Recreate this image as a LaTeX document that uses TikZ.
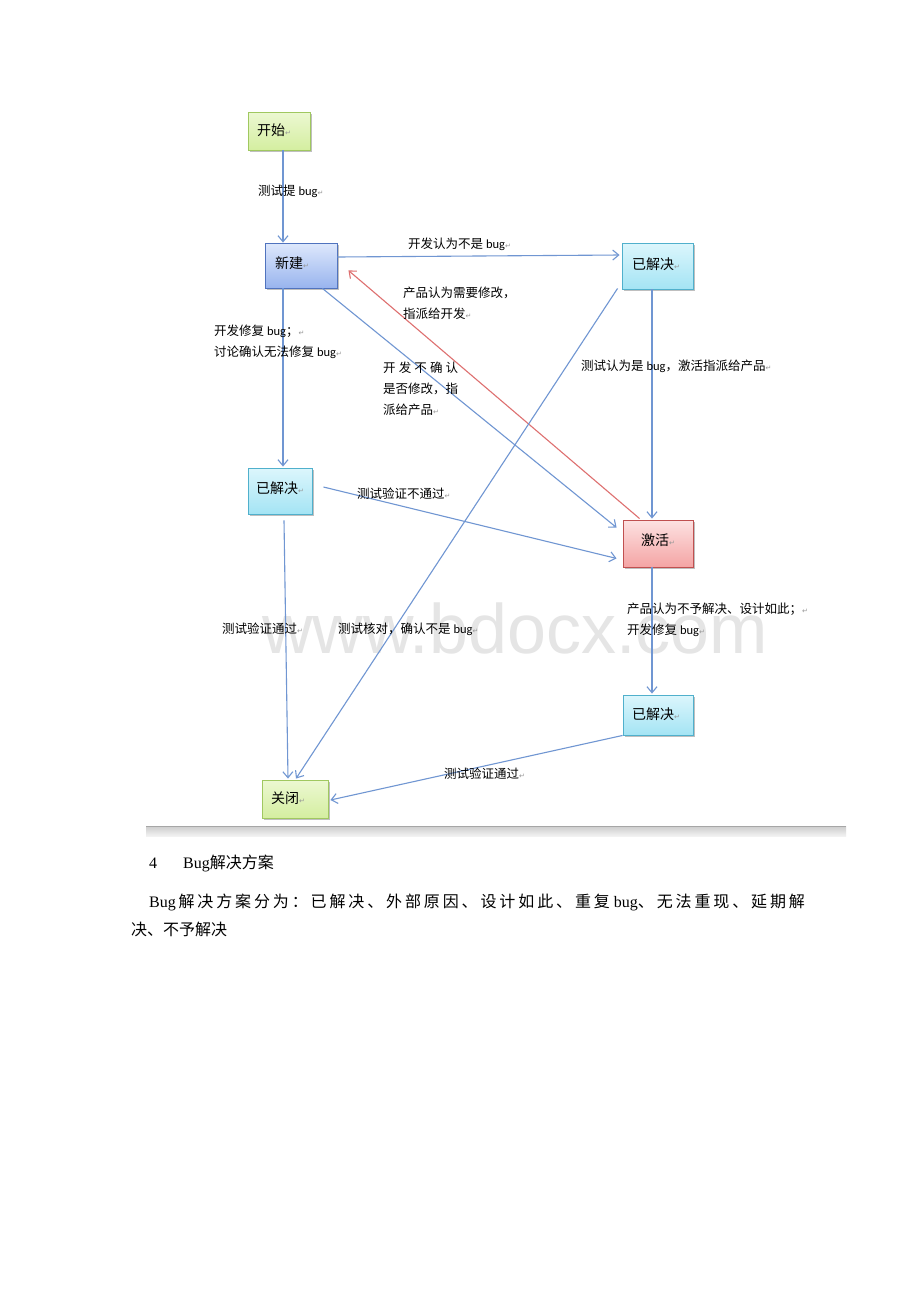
\documentclass[tikz,border=0pt]{standalone}
\usepackage{fontspec}
\setmainfont{Liberation Serif}
\newfontfamily\cjk{Noto Sans CJK SC}
\newfontfamily\cjkls[LetterSpace=18]{Noto Sans CJK SC}
\newfontfamily\lat{Carlito}
\newfontfamily\symf{DejaVu Sans}
\newfontfamily\wmf{Liberation Sans}
\usetikzlibrary{arrows.meta,shadows,calc}
\definecolor{lnblue}{RGB}{112,150,210}
\definecolor{lnred}{RGB}{222,112,112}
\definecolor{pmgray}{RGB}{150,150,150}
\newcommand{\pmk}{{\symf\color{pmgray}\fontsize{7}{7}\selectfont ↵}}
\newcommand{\bugw}{{\lat bug}}
\tikzset{
  box/.style={draw, line width=0.9pt, inner ysep=0pt, align=left,
    font=\cjk\fontsize{14}{16}\selectfont,
    drop shadow={shadow xshift=1.5pt, shadow yshift=-1.5pt, opacity=0.25, fill=black}},
  greenbox/.style={box, draw={rgb,255:red,160;green,200;blue,96}, top color={rgb,255:red,236;green,248;blue,210}, bottom color={rgb,255:red,212;green,238;blue,160}},
  bluebox/.style={box, draw={rgb,255:red,80;green,115;blue,190}, top color={rgb,255:red,222;green,232;blue,252}, bottom color={rgb,255:red,152;green,180;blue,238}},
  cyanbox/.style={box, draw={rgb,255:red,80;green,176;blue,204}, top color={rgb,255:red,220;green,246;blue,252}, bottom color={rgb,255:red,164;green,228;blue,244}},
  redbox/.style={box, draw={rgb,255:red,192;green,80;blue,80}, top color={rgb,255:red,253;green,226;blue,226}, bottom color={rgb,255:red,244;green,164;blue,164}},
  conn/.style={draw=lnblue, line width=1.1pt, -{Straight Barb[length=6pt,width=10pt]}},
  connred/.style={conn, draw=lnred},
  lbl/.style={anchor=west, inner sep=0pt, align=left, font=\cjk\fontsize{12.5}{21}\selectfont},
}
\begin{document}
\begin{tikzpicture}[x=1pt,y=-1pt]
\useasboundingbox[fill=white] (0,0) rectangle (920,1302);

% watermark
\node[font=\wmf\fontsize{70}{70}\selectfont, text=black!10, inner sep=0pt] (wmk) at (515,628) {www.bdocx.com};

% nodes
\node[greenbox, minimum height=38pt, inner xsep=9pt, text width=44pt] (ks) at (279,131) {\raisebox{3pt}{开始\pmk}};
\node[bluebox, minimum height=45pt, inner xsep=10pt, text width=52pt] (xj) at (301,265.5) {\raisebox{6pt}{新建\pmk}};
\node[cyanbox, minimum height=46pt, inner xsep=10pt, text width=51pt] (yj1) at (657.5,266) {\raisebox{5pt}{已解决\pmk}};
\node[cyanbox, minimum height=46pt, inner xsep=8pt, text width=48pt] (yj2) at (280,491) {\raisebox{6pt}{已解决\pmk}};
\node[redbox, minimum height=47pt, inner xsep=10pt, text width=50pt, align=center] (jh) at (658,543.5) {\raisebox{8pt}{激活\pmk}};
\node[cyanbox, minimum height=40pt, inner xsep=9pt, text width=52pt] (yj3) at (658,715) {\raisebox{3pt}{已解决\pmk}};
\node[greenbox, minimum height=38pt, inner xsep=9pt, text width=48pt] (gb) at (295,799) {\raisebox{2pt}{关闭\pmk}};

% connectors
\draw[conn] ($(ks.south)+(4,0)$) -- ($(xj.north)+(-18,0)$);
\draw[conn] ($(xj.east)+(0,-8.5)$) -- ($(yj1.west)+(-2,-11)$);
\draw[connred] ($(jh.north west)+(17,-1)$) -- ($(xj.south east)+(11,-18)$);
\draw[conn] ($(xj.south east)+(-15,0)$) -- ($(jh.north west)+(-6,8)$);
\draw[conn] ($(xj.south)+(-18,0)$) -- ($(yj2.north)+(3,-1)$);
\draw[conn] ($(yj1.south)+(-5.5,0)$) -- ($(jh.north)+(-6,-1)$);
\draw[conn] ($(yj1.south west)+(-4,-1)$) -- ($(gb.north)+(1,-1)$);
\draw[conn] ($(yj2.east)+(11,-4)$) -- ($(jh.south west)+(-6,-9)$);
\draw[conn] ($(yj2.south)+(4,6)$) -- ($(gb.north)+(-7,-1)$);
\draw[conn] ($(jh.south)+(-6,0)$) -- ($(yj3.north)+(-6,-1)$);
\draw[conn] (yj3.south west) -- ($(gb.east)+(2,1)$);

% labels
\node[lbl] (l1) at (258,191) {测试提 \bugw\pmk};
\node[lbl] (l2) at (408,244) {开发认为不是 \bugw\pmk};
\node[lbl] (l3) at (403,303.5) {产品认为需要修改，\\指派给开发\pmk};
\node[lbl] (l4) at (383,388.5) {\makebox[6em][s]{开\hfil 发\hfil 不\hfil 确\hfil 认}\\是否修改，指\\派给产品\pmk};
\node[lbl] (l5) at (214,341.5) {开发修复 \bugw；\pmk\\讨论确认无法修复 \bugw\pmk};
\node[lbl] (l6) at (581,366) {测试认为是 \bugw，激活指派给产品\pmk};
\node[lbl] (l7) at (357,494) {测试验证不通过\pmk};
\node[lbl] (l8) at (222,629) {测试验证通过\pmk};
\node[lbl] (l9) at (338,629) {测试核对，确认不是 \bugw\pmk};
\node[lbl] (l10) at (627,619.5) {产品认为不予解决、设计如此；\pmk\\开发修复 \bugw\pmk};
\node[lbl] (l11) at (444,774) {测试验证通过\pmk};

% separator bar
\shade[top color=black!20, bottom color=black!5] (146,826) rectangle (846,836);
\draw[black!35, line width=0.6pt] (146,826.3) -- (846,826.3);

% body text
\node[anchor=base west, inner sep=0pt, font=\fontsize{16}{20}\selectfont] (h4) at (149,868) {4};
\node[anchor=base west, inner sep=0pt, font=\fontsize{16}{20}\selectfont] (h4t) at (183,868) {Bug{\cjk 解决方案}};
\node[anchor=base west, inner sep=0pt, font=\fontsize{16}{20}\selectfont] (p1) at (149,907) {Bug\,{\cjkls 解决方案分为：已解决、外部原因、设计如此、重复}\ bug{\cjkls 、无法重现、延期解}};
\node[anchor=base west, inner sep=0pt, font=\fontsize{16}{20}\selectfont] (p2) at (131,935) {{\cjk 决、不予解决}};
\end{tikzpicture}
\end{document}
